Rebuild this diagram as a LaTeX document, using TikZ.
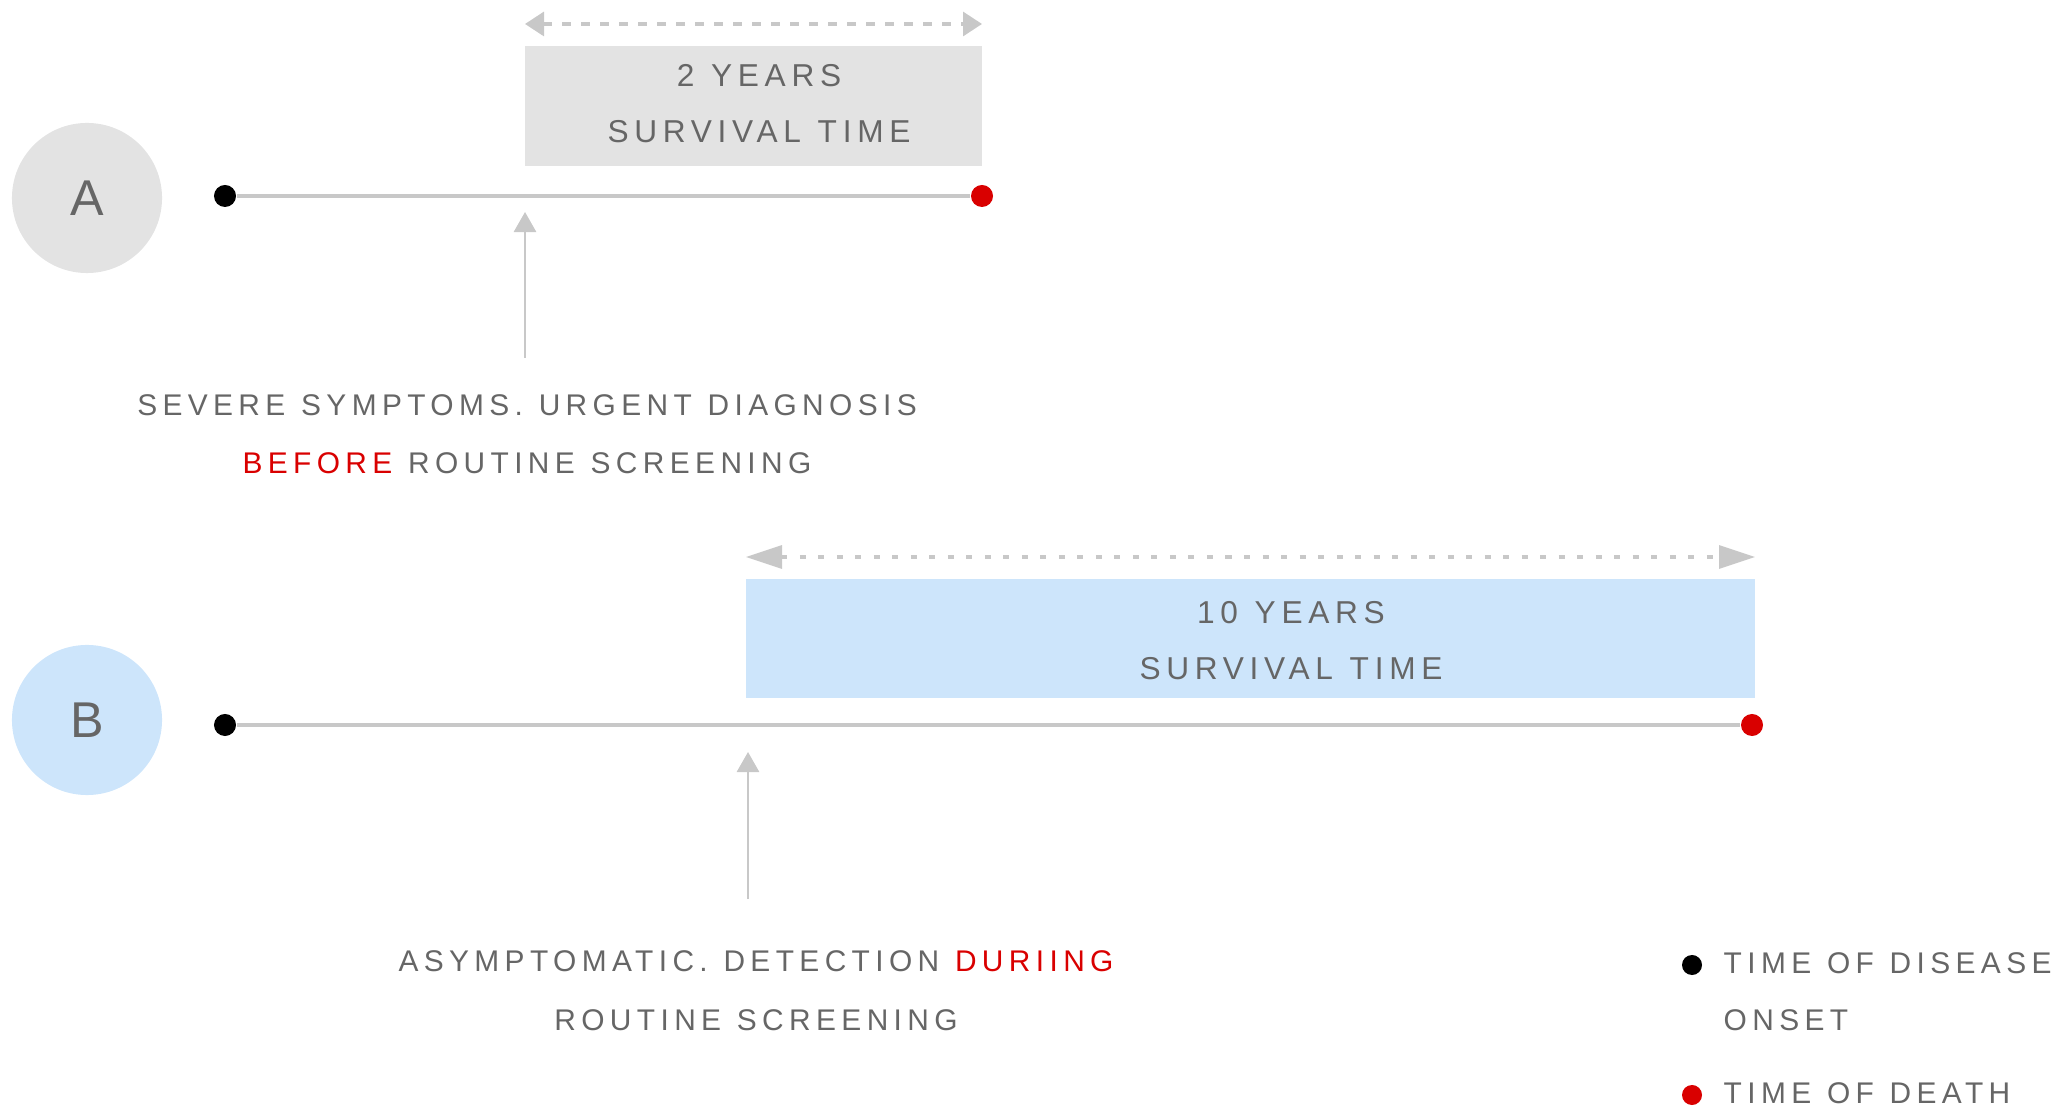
\documentclass[tikz,border=0pt]{standalone}
\usepackage{fontspec}
\setmainfont{Liberation Sans}
\newfontfamily\spaced[LetterSpace=18,WordSpace=1.15]{Liberation Sans}
\usetikzlibrary{arrows.meta,positioning}

\definecolor{txtgray}{HTML}{666666}
\definecolor{deathred}{HTML}{D90000}
\definecolor{linegray}{HTML}{C8C8C8}
\definecolor{boxgray}{HTML}{E3E3E3}
\definecolor{boxblue}{HTML}{CDE5FB}

\begin{document}
\begin{tikzpicture}[x=0.01cm, y=-0.01cm]
			%define block styles
			\tikzset{
				badge/.style={circle, minimum size=1.5cm, inner sep=0pt, text=txtgray, font=\fontsize{14.3}{16}\selectfont},
				onset/.style={circle, fill=black, minimum size=0.22cm, inner sep=0pt},
				death/.style={circle, fill=deathred, minimum size=0.22cm, inner sep=0pt},
				timeline/.style={draw=linegray, line width=0.9pt},
				spanbox/.style={rectangle, minimum height=1.19cm, inner sep=0pt},
				boxtext/.style={text=txtgray, align=center, anchor=base, font=\spaced\fontsize{9}{16.2}\selectfont},
				caption/.style={text=txtgray, align=center, anchor=base, font=\spaced\fontsize{8.5}{16.5}\selectfont},
				legendtext/.style={text=txtgray, align=left, anchor=base west, inner sep=0pt, font=\spaced\fontsize{8.5}{16.2}\selectfont},
				span/.style={draw=linegray, line width=0.9pt},
				pointer/.style={draw=linegray, line width=0.8pt, -{Triangle[length=0.2cm, width=0.22cm, fill=linegray]}},
			}
			\useasboundingbox (0,0) rectangle (2064,1107);
			%row A
			\node[badge, fill=boxgray](badgeA) at (87,198){A};
			\node[spanbox, fill=boxgray, minimum width=4.57cm](boxA) at (753.5,106){};
			\node[boxtext](yearsA) at (759,143){2 YEARS\\SURVIVAL TIME};
			\node[onset](onsetA) at (225,196){};
			\node[death](deathA) at (982,196){};
			\coordinate (spanAl) at (525,24);
			\coordinate (spanAr) at (982,24);
			\coordinate (tipA) at (525,212);
			\coordinate (footA) at (525,358);
			\node[caption](capA) at (527,474){SEVERE SYMPTOMS. URGENT DIAGNOSIS\\\textcolor{deathred}{BEFORE} ROUTINE SCREENING};
			%row B
			\node[badge, fill=boxblue](badgeB) at (87,720){B};
			\node[spanbox, fill=boxblue, minimum width=10.09cm](boxB) at (1250.5,638.5){};
			\node[boxtext](yearsB) at (1291,680){10 YEARS\\SURVIVAL TIME};
			\node[onset](onsetB) at (225,725){};
			\node[death](deathB) at (1752,725){};
			\coordinate (spanBl) at (746,557);
			\coordinate (spanBr) at (1755,557);
			\coordinate (tipB) at (748,752);
			\coordinate (footB) at (748,899);
			\node[caption](capB) at (756,1030){ASYMPTOMATIC. DETECTION \textcolor{deathred}{DURIING}\\ROUTINE SCREENING};
			%legend
			\node[onset, minimum size=0.2cm](keyOnset) at (1692,965){};
			\node[legendtext](keyOnsetText) at (1723,1030){TIME OF DISEASE\\ONSET};
			\node[death, minimum size=0.2cm](keyDeath) at (1692,1095){};
			\node[legendtext](keyDeathText) at (1723,1103){TIME OF DEATH};
			%define arrows
			\draw[timeline] (onsetA) -- (deathA);
			\draw[timeline] (onsetB) -- (deathB);
			\draw[span, dash pattern=on 0.09cm off 0.1cm, {Triangle[length=0.19cm, width=0.24cm, fill=linegray]}-{Triangle[length=0.19cm, width=0.24cm, fill=linegray]}] (spanAl) -- (spanAr);
			\draw[span, dash pattern=on 0.06cm off 0.125cm, {Triangle[length=0.36cm, width=0.23cm, fill=linegray]}-{Triangle[length=0.36cm, width=0.23cm, fill=linegray]}] (spanBl) -- (spanBr);
			\draw[pointer] (footA) -- (tipA);
			\draw[pointer] (footB) -- (tipB);
		\end{tikzpicture}
\end{document}
